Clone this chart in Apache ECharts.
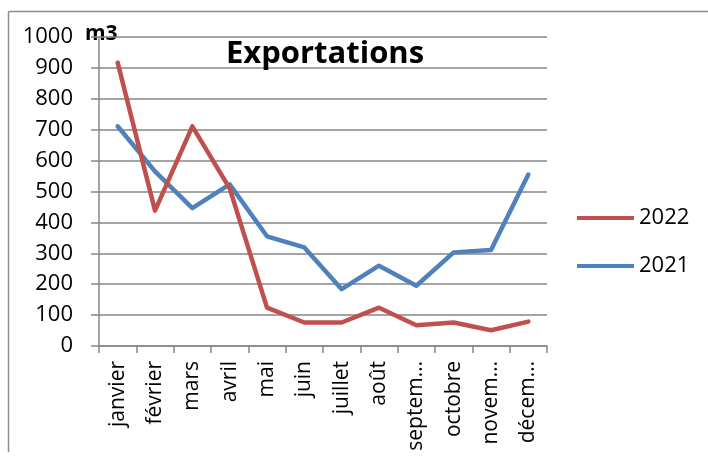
<!DOCTYPE html>
<html><head><meta charset="utf-8">
<script src="https://cdn.jsdelivr.net/npm/echarts@6/dist/echarts.min.js"></script>
<style>html,body{margin:0;padding:0;background:#fff}#c{width:708px;height:461px}</style>
</head><body><div id="c"></div>
<script>
const months = ['janvier','février','mars','avril','mai','juin','juillet','août','septembre','octobre','novembre','décembre'];
const monthLabels = ['janvier','février','mars','avril','mai','juin','juillet','août','septem…','octobre','novem…','décem…'];
const values2022 = [917, 438, 711, 510, 124, 76, 76, 124, 67, 76, 51, 79];
const values2021 = [711, 565, 446, 523, 355, 319, 184, 260, 195, 303, 311, 555];
const yTicks = [0, 100, 200, 300, 400, 500, 600, 700, 800, 900, 1000];

const FONT = 'Open Sans';
const chart = echarts.init(document.getElementById('c'), null, {renderer: 'canvas'});
chart.setOption({
  animation: false,
  backgroundColor: '#fff',
  textStyle: {fontFamily: FONT},
  title: {
    text: 'Exportations', left: 320, textAlign: 'center', top: 34,
    textStyle: {fontFamily: FONT, fontWeight: 'bold', fontSize: 31, color: '#000'}
  },
  graphic: [
    {type: 'line', shape: {x1: 8.5, y1: 11.5, x2: 708, y2: 11.5}, style: {stroke: '#8c8c8c', lineWidth: 1.5}},
    {type: 'line', shape: {x1: 8.5, y1: 11.5, x2: 8.5, y2: 452}, style: {stroke: '#8c8c8c', lineWidth: 1.5}},
    {type: 'text', left: 85, top: 24, style: {text: 'm3', font: 'bold 21px "Open Sans"', fill: '#000'}}
  ],
  legend: {
    orient: 'vertical', left: 572, top: 200, icon: 'rect', itemWidth: 57, itemHeight: 4,
    itemGap: 22,
    textStyle: {fontFamily: FONT, fontSize: 22, color: '#000', lineHeight: 26},
    data: ['2022', '2021']
  },
  grid: {left: 99, right: 161, top: 37, bottom: 115, containLabel: false},
  xAxis: {
    type: 'category', data: months, boundaryGap: true,
    axisLine: {lineStyle: {color: '#868686', width: 1.5}},
    axisTick: {show: true, length: 7, lineStyle: {color: '#868686', width: 1.5}},
    axisLabel: {
      rotate: 90, interval: 0, margin: 15, fontFamily: FONT, fontSize: 21, color: '#000',
      formatter: (v, i) => monthLabels[i]
    }
  },
  yAxis: {
    type: 'value', min: yTicks[0], max: yTicks[yTicks.length - 1], interval: 100,
    axisLine: {show: true, lineStyle: {color: '#868686', width: 1.5}},
    axisTick: {show: true, length: 8, lineStyle: {color: '#868686', width: 1.5}},
    splitLine: {show: true, lineStyle: {color: '#868686', width: 1.5}},
    axisLabel: {margin: 26, fontFamily: FONT, fontSize: 22, color: '#000', formatter: v => String(v)}
  },
  series: [
    {name: '2022', type: 'line', data: values2022, symbol: 'none', color: '#C0504D',
     lineStyle: {width: 4.5, color: '#C0504D', cap: 'round', join: 'round'}, z: 3},
    {name: '2021', type: 'line', data: values2021, symbol: 'none', color: '#4F81BD',
     lineStyle: {width: 4.5, color: '#4F81BD', cap: 'round', join: 'round'}, z: 2}
  ]
});
</script></body></html>
